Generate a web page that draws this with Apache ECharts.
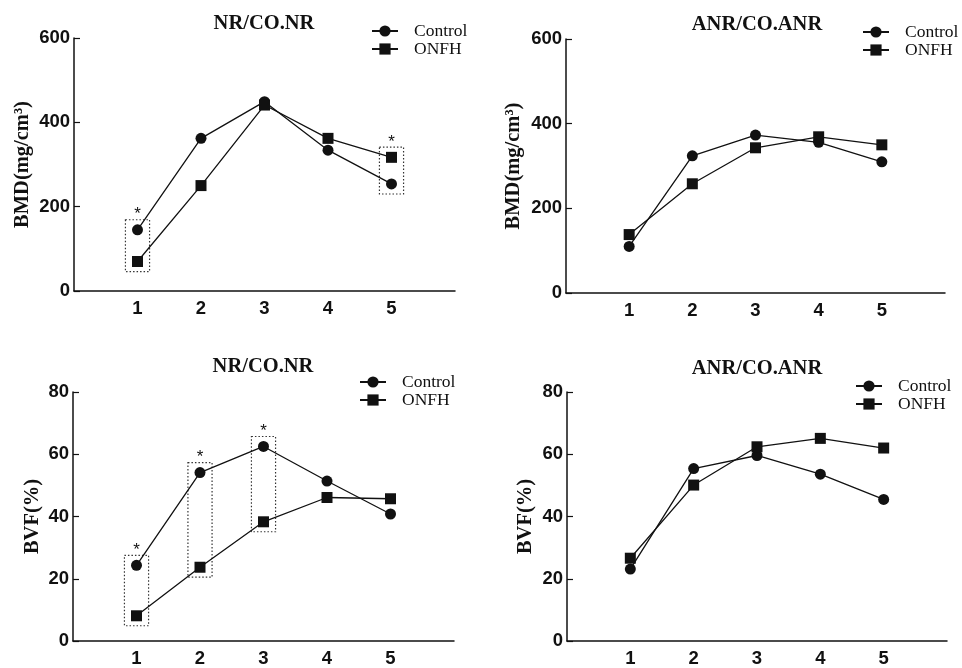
<!DOCTYPE html>
<html>
<head>
<meta charset="utf-8">
<script src="https://cdn.jsdelivr.net/npm/echarts@6/dist/echarts.min.js"></script>
<style>html,body{margin:0;padding:0;background:#fff}#c{width:962px;height:668px}</style>
</head>
<body>
<div id="c"></div>
<script>
// ---- data ----
const categories = [1, 2, 3, 4, 5];
const xTickLabels = ['1', '2', '3', '4', '5'];

const titles = ['NR/CO.NR', 'ANR/CO.ANR', 'NR/CO.NR', 'ANR/CO.ANR'];
const yNames = ['BMD(mg/cm³)', 'BMD(mg/cm³)', 'BVF(%)', 'BVF(%)'];
const yMax = [600, 600, 80, 80];
const yInterval = [200, 200, 20, 20];

const bmdNrControl = [145, 362, 449, 334, 254];
const bmdNrOnfh = [70, 250, 441, 362, 317];
const bmdAnrControl = [110, 324, 373, 356, 310];
const bmdAnrOnfh = [138, 258, 343, 369, 350];
const bvfNrControl = [24.3, 54.1, 62.5, 51.4, 40.8];
const bvfNrOnfh = [8.1, 23.7, 38.3, 46.1, 45.7];
const bvfAnrControl = [23.1, 55.4, 59.6, 53.6, 45.5];
const bvfAnrOnfh = [26.6, 50.1, 62.4, 65.1, 62.0];

// significant (*) category indexes per panel
const sigNrBmd = [0, 4];
const sigAnrBmd = [];
const sigNrBvf = [0, 1, 2];
const sigAnrBvf = [];

const controlSets = [bmdNrControl, bmdAnrControl, bvfNrControl, bvfAnrControl];
const onfhSets = [bmdNrOnfh, bmdAnrOnfh, bvfNrOnfh, bvfAnrOnfh];
const sigSets = [sigNrBmd, sigAnrBmd, sigNrBvf, sigAnrBvf];

// ---- layout ----
const grids = [
  {left: 74, top: 38, width: 381, height: 253},
  {left: 566, top: 39, width: 379, height: 254},
  {left: 73, top: 392, width: 381, height: 252},
  {left: 567, top: 392, width: 380, height: 253}
];
const titlePos = [{x: 264, y: 13}, {x: 757, y: 14}, {x: 263, y: 356}, {x: 757, y: 358}];
const legendPos = [{x: 371, y: 22}, {x: 862, y: 23}, {x: 359, y: 373}, {x: 855, y: 377}];
const nameGaps = [41, 42, 30, 31];

const SERIF = 'Liberation Serif';
const SANS = 'Liberation Sans';
const INK = '#111';

const option = {
  animation: false,
  backgroundColor: '#fff',
  title: [], legend: [], grid: [], xAxis: [], yAxis: [], series: []
};

for (let p = 0; p < 4; p++) {
  option.grid.push(Object.assign({containLabel: false}, grids[p]));
  option.title.push({
    text: titles[p], left: titlePos[p].x, top: titlePos[p].y, textAlign: 'center', padding: 0,
    textStyle: {fontFamily: SERIF, fontWeight: 'bold', fontSize: 20.5, color: INK}
  });
  option.legend.push({
    data: ['Control', 'ONFH'], orient: 'vertical', left: legendPos[p].x, top: legendPos[p].y,
    padding: 0, itemWidth: 26, itemHeight: 14, itemGap: 0, selectedMode: false,
    textStyle: {fontFamily: SERIF, fontSize: 17.5, color: INK, padding: [0, 0, 0, 11]}
  });
  option.xAxis.push({
    type: 'value', gridIndex: p, min: 0, max: 6, interval: 1,
    axisLine: {lineStyle: {color: INK, width: 1.5}},
    axisTick: {show: false}, splitLine: {show: false},
    axisLabel: {
      fontFamily: SANS, fontWeight: 'bold', fontSize: 18.5, color: INK, margin: 8,
      formatter: v => { const i = categories.indexOf(v); return i >= 0 ? xTickLabels[i] : ''; }
    }
  });
  option.yAxis.push({
    type: 'value', gridIndex: p, min: 0, max: yMax[p], interval: yInterval[p],
    name: yNames[p], nameLocation: 'middle', nameRotate: 90, nameGap: nameGaps[p],
    nameTextStyle: {fontFamily: SERIF, fontWeight: 'bold', fontSize: 20.5, color: INK},
    axisLine: {show: true, lineStyle: {color: INK, width: 1.5}},
    axisTick: {show: true, inside: true, length: 6, lineStyle: {color: INK, width: 1.2}},
    splitLine: {show: false},
    axisLabel: {fontFamily: SANS, fontWeight: 'bold', fontSize: 18.5, color: INK, margin: 4}
  });

  const ctrl = controlSets[p], onfh = onfhSets[p];
  const pad = yMax[p] * 0.04;
  const areas = sigSets[p].map(i => {
    const lo = Math.min(ctrl[i], onfh[i]) - pad;
    const hi = Math.max(ctrl[i], onfh[i]) + pad;
    return [
      {xAxis: categories[i] - 0.19, yAxis: hi},
      {xAxis: categories[i] + 0.19, yAxis: lo}
    ];
  });

  option.series.push({
    name: 'Control', type: 'line', xAxisIndex: p, yAxisIndex: p,
    data: categories.map((c, i) => [c, ctrl[i]]),
    symbol: 'circle', symbolSize: 11,
    lineStyle: {color: INK, width: 1.3}, itemStyle: {color: INK},
    z: 3,
    markArea: areas.length ? {
      silent: true,
      itemStyle: {color: 'rgba(0,0,0,0)', borderColor: '#333', borderWidth: 1.2, borderType: [1.5, 2]},
      label: {show: true, position: 'top', formatter: '*', distance: -4,
              fontFamily: SANS, fontSize: 17, color: INK},
      data: areas
    } : undefined
  });
  option.series.push({
    name: 'ONFH', type: 'line', xAxisIndex: p, yAxisIndex: p,
    data: categories.map((c, i) => [c, onfh[i]]),
    symbol: 'rect', symbolSize: 11,
    lineStyle: {color: INK, width: 1.3}, itemStyle: {color: INK},
    z: 3
  });
}

const chart = echarts.init(document.getElementById('c'), null, {renderer: 'canvas'});
chart.setOption(option);
</script>
</body>
</html>
